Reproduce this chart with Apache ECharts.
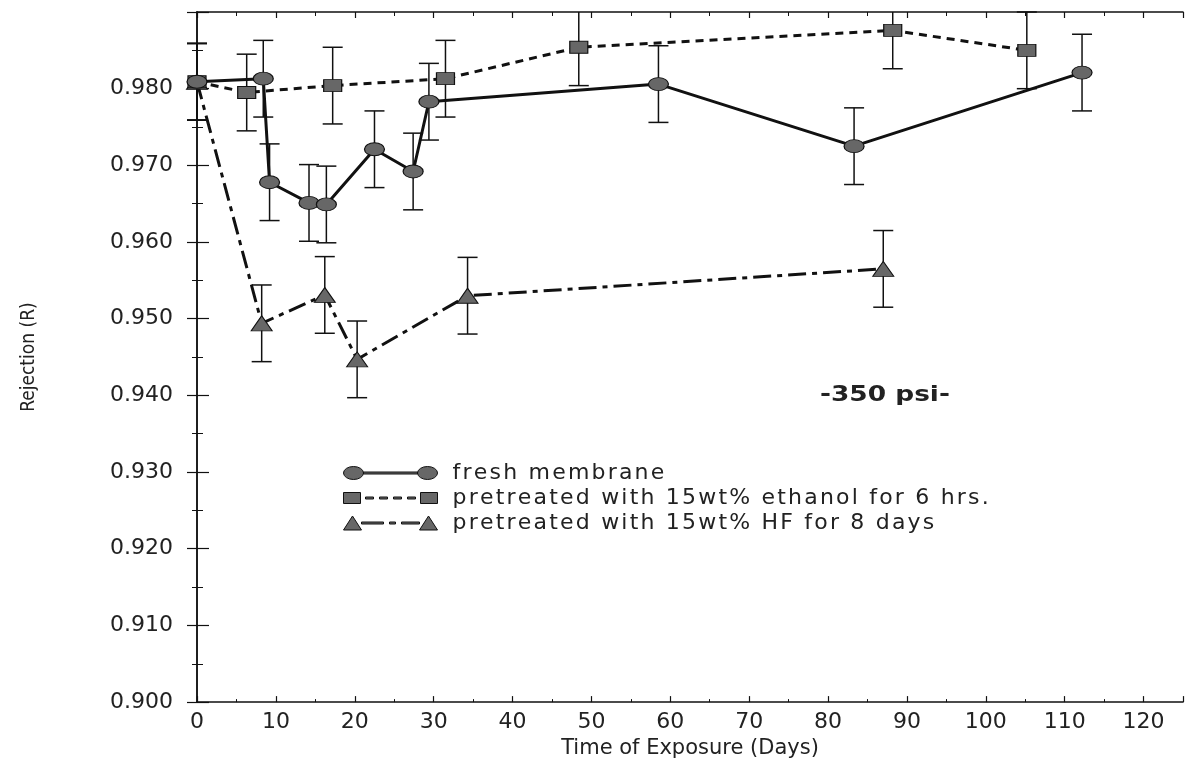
<!DOCTYPE html>
<html>
<head>
<meta charset="utf-8">
<script src="https://cdn.jsdelivr.net/npm/echarts@6/dist/echarts.min.js"></script>
<style>
  html, body { margin: 0; padding: 0; background: #fff; }
  #chart { width: 1186px; height: 764px; }
</style>
</head>
<body>
<div id="chart"></div>
<script>
// values
const freshDays = [0, 8.4, 9.2, 14.2, 16.4, 22.5, 27.4, 29.4, 58.5, 83.3, 112.2];
const freshR = [0.9809, 0.9813, 0.9678, 0.9651, 0.9649, 0.9721, 0.9692, 0.9783, 0.9806, 0.9725, 0.9821];
const freshErr = [0.005, 0.005, 0.005, 0.005, 0.005, 0.005, 0.005, 0.005, 0.005, 0.005, 0.005];

const ethanolDays = [0, 6.3, 17.2, 31.5, 48.4, 88.2, 105.2];
const ethanolR = [0.9809, 0.9795, 0.9804, 0.9813, 0.9854, 0.9876, 0.9850];
const ethanolErr = [0.005, 0.005, 0.005, 0.005, 0.005, 0.005, 0.005];

const hfDays = [0, 8.2, 16.2, 20.3, 34.3, 87];
const hfR = [0.9809, 0.9494, 0.9531, 0.9447, 0.9530, 0.9565];
const hfErr = [0.005, 0.005, 0.005, 0.005, 0.005, 0.005];

const seriesNames = [
  'fresh membrane',
  'pretreated with 15wt% ethanol for 6 hrs.',
  'pretreated with 15wt% HF for 8 days'
];

const X_MIN = 0, X_MAX = 125;
const Y_MIN = 0.9, Y_MAX = 0.99;

const FONT = 'DejaVu Sans';
const markerFill = '#676767';
const markerEdge = '#111';

const pairs = (xs, ys) => xs.map((x, i) => [x, ys[i]]);
const bars = (xs, ys, es) => xs.map((x, i) => [x, ys[i] - es[i], ys[i] + es[i]]);

// the scanned lettering is widely spaced; spread legend letters a little
const spaced = s => s.split('').map(c => '{s|' + c + '}').join('');

// legend icons: marker - line - marker, in a 94 x 14 box
const iconFresh = 'path://M0,7 A10,6.5 0 1,1 20,7 A10,6.5 0 1,1 0,7 Z' +
  'M20,6 L74,6 L74,8 L20,8 Z' +
  'M74,7 A10,6.5 0 1,1 94,7 A10,6.5 0 1,1 74,7 Z';
const iconEthanol = 'path://M0,1.5 L17,1.5 L17,12.5 L0,12.5 Z' +
  'M22,6 L30,6 L30,8 L22,8 Z M36,6 L44,6 L44,8 L36,8 Z' +
  'M50,6 L58,6 L58,8 L50,8 Z M64,6 L72,6 L72,8 L64,8 Z' +
  'M77,1.5 L94,1.5 L94,12.5 L77,12.5 Z';
const iconHF = 'path://M0,14 L9,0 L18,14 Z' +
  'M18,6 L40,6 L40,8 L18,8 Z M46,6 L52,6 L52,8 L46,8 Z M58,6 L76,6 L76,8 L58,8 Z' +
  'M76,14 L85,0 L94,14 Z';

function errorBarItem(params, api) {
  const x = api.value(0);
  const lo = api.value(1);
  let hi = api.value(2);
  const clipped = hi > Y_MAX;
  if (clipped) hi = Y_MAX;
  const pLo = api.coord([x, lo]);
  const pHi = api.coord([x, hi]);
  const w = 10;
  const style = { stroke: '#111', lineWidth: 1.5 };
  const children = [
    { type: 'line', shape: { x1: pLo[0], y1: pLo[1], x2: pHi[0], y2: pHi[1] }, style },
    { type: 'line', shape: { x1: pLo[0] - w, y1: pLo[1], x2: pLo[0] + w, y2: pLo[1] }, style }
  ];
  if (!clipped) {
    children.push({ type: 'line', shape: { x1: pHi[0] - w, y1: pHi[1], x2: pHi[0] + w, y2: pHi[1] }, style });
  }
  return { type: 'group', children };
}

function errorSeries(data) {
  return {
    type: 'custom',
    renderItem: errorBarItem,
    data: data,
    encode: { x: 0, y: [1, 2] },
    clip: false,
    silent: true,
    z: 1
  };
}

const axisLineStyle = { color: '#111', width: 1.5 };
const labelStyle = { fontFamily: FONT, fontSize: 22, color: '#222' };

const option = {
  animation: false,
  backgroundColor: '#fff',
  grid: { left: 197, right: 3, top: 12, bottom: 57, containLabel: false },
  xAxis: [
    {
      type: 'value', position: 'bottom', min: X_MIN, max: X_MAX, interval: 10,
      axisLine: { show: true, lineStyle: axisLineStyle },
      axisTick: { show: true, inside: true, length: 6, lineStyle: { color: '#111', width: 1.2 } },
      minorTick: { show: true, splitNumber: 2, length: 3, lineStyle: { color: '#111', width: 1 } },
      splitLine: { show: false },
      axisLabel: { ...labelStyle, margin: 9, showMaxLabel: false },
      name: 'Time of Exposure (Days)',
      nameLocation: 'middle',
      nameGap: 31,
      nameTextStyle: { fontFamily: FONT, fontSize: 21, color: '#222' }
    },
    {
      type: 'value', position: 'top', min: X_MIN, max: X_MAX, interval: 10,
      axisLine: { show: true, lineStyle: axisLineStyle },
      axisTick: { show: true, inside: true, length: 6, lineStyle: { color: '#111', width: 1.2 } },
      minorTick: { show: true, splitNumber: 2, length: 4, lineStyle: { color: '#111', width: 1 } },
      splitLine: { show: false },
      axisLabel: { show: false }
    }
  ],
  yAxis: [
    {
      type: 'value', position: 'left', min: Y_MIN, max: Y_MAX, interval: 0.01,
      axisLine: { show: true, lineStyle: axisLineStyle },
      axisTick: { show: true, inside: true, length: 12, lineStyle: { color: '#111', width: 1.2 } },
      minorTick: { show: true, splitNumber: 2, length: 6, lineStyle: { color: '#111', width: 1 } },
      splitLine: { show: false },
      axisLabel: { ...labelStyle, margin: 24, showMaxLabel: false, formatter: v => v.toFixed(3) },
      name: 'Rejection (R)',
      nameLocation: 'middle',
      nameRotate: 90,
      nameGap: 158,
      nameTextStyle: { fontFamily: '"Liberation Sans Narrow", "DejaVu Sans Condensed", sans-serif', fontSize: 19, color: '#222' }
    },
    {
      type: 'value', position: 'right', min: Y_MIN, max: Y_MAX, interval: 0.01,
      axisLine: { show: true, lineStyle: axisLineStyle },
      axisTick: { show: true, inside: true, length: 10, lineStyle: { color: '#111', width: 1.2 } },
      minorTick: { show: true, splitNumber: 2, length: 5, lineStyle: { color: '#111', width: 1 } },
      splitLine: { show: false },
      axisLabel: { show: false }
    }
  ],
  legend: {
    orient: 'vertical',
    left: 338,
    top: 457,
    itemWidth: 94,
    itemHeight: 14,
    itemGap: 3,
    formatter: name => spaced(name),
    textStyle: {
      fontFamily: FONT, fontSize: 22, color: '#222', padding: [0, 0, 0, 9],
      rich: { s: { fontFamily: FONT, fontSize: 22, color: '#222', padding: [0, 1.1, 0, 1.1] } }
    },
    data: [
      { name: seriesNames[0], icon: iconFresh, itemStyle: { color: markerFill, borderColor: markerEdge, borderWidth: 1 } },
      { name: seriesNames[1], icon: iconEthanol, itemStyle: { color: markerFill, borderColor: markerEdge, borderWidth: 1 } },
      { name: seriesNames[2], icon: iconHF, itemStyle: { color: markerFill, borderColor: markerEdge, borderWidth: 1 } }
    ]
  },
  graphic: [
    {
      type: 'text', left: 820, top: 384, scaleX: 1.2,
      style: { text: '-350 psi-', fontFamily: FONT, fontSize: 22, fontWeight: 'bold', fill: '#222' }
    }
  ],
  series: [
    errorSeries(bars(hfDays, hfR, hfErr)),
    errorSeries(bars(ethanolDays, ethanolR, ethanolErr)),
    errorSeries(bars(freshDays, freshR, freshErr)),
    {
      name: seriesNames[2],
      type: 'line',
      data: pairs(hfDays, hfR),
      symbol: 'triangle',
      symbolSize: [21, 15],
      lineStyle: { color: '#111', width: 3, type: [18, 6, 5, 6] },
      itemStyle: { color: markerFill, borderColor: markerEdge, borderWidth: 1 },
      z: 3
    },
    {
      name: seriesNames[1],
      type: 'line',
      data: pairs(ethanolDays, ethanolR),
      symbol: 'rect',
      symbolSize: [18, 12],
      lineStyle: { color: '#111', width: 3, type: [8, 6] },
      itemStyle: { color: markerFill, borderColor: markerEdge, borderWidth: 1 },
      z: 3
    },
    {
      name: seriesNames[0],
      type: 'line',
      data: pairs(freshDays, freshR),
      symbol: 'circle',
      symbolSize: [20, 13],
      lineStyle: { color: '#111', width: 3 },
      itemStyle: { color: markerFill, borderColor: markerEdge, borderWidth: 1 },
      z: 3
    }
  ]
};

const chart = echarts.init(document.getElementById('chart'));
chart.setOption(option);
</script>
</body>
</html>
